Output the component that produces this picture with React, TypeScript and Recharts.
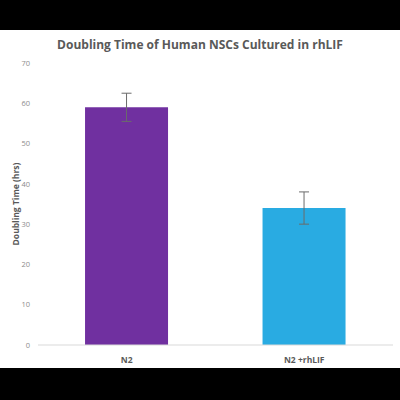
import React from "react";
import { BarChart, Bar, XAxis, YAxis, ErrorBar, Cell } from "recharts";

const conditions = ["N2", "N2 +rhLIF"];
const doublingHours = [59, 34];
const errorHours = [3.5, 4];
const barColors = ["#7030A0", "#29ABE2"];
const yTicks = [0, 10, 20, 30, 40, 50, 60, 70];

const data = conditions.map((name, i) => ({
  name,
  hours: doublingHours[i],
  err: errorHours[i],
}));

const FONT = "'Open Sans', 'Noto Sans', sans-serif";

const YLabel = (props: any) => {
  const vb = props.viewBox || { y: 0, height: 0 };
  const cx = 15;
  const cy = vb.y + vb.height / 2;
  return (
    <text
      x={cx}
      y={cy}
      transform={`rotate(-90 ${cx} ${cy})`}
      textAnchor="middle"
      dominantBaseline="central"
      fontFamily={FONT}
      fontSize={8.5}
      fontWeight={700}
      fill="#595959"
    >
      Doubling Time (hrs)
    </text>
  );
};

export default function App() {
  return (
    <div
      style={{
        position: "fixed",
        left: 0,
        top: 0,
        width: 400,
        height: 400,
        background: "#000",
      }}
    >
      <div
        style={{
          position: "absolute",
          left: 0,
          top: 30,
          width: 400,
          height: 338,
          background: "#fff",
        }}
      >
        <div
          style={{
            position: "absolute",
            left: 0,
            top: 6,
            width: 400,
            textAlign: "center",
            fontFamily: FONT,
            fontWeight: 700,
            fontSize: 12,
            color: "#595959",
          }}
        >
          Doubling Time of Human NSCs Cultured in rhLIF
        </div>
        <BarChart
          width={400}
          height={338}
          data={data}
          margin={{ top: 33, right: 7, bottom: 0, left: 0 }}
          barCategoryGap="26.5%"
        >
          <XAxis
            dataKey="name"
            height={23}
            tickLine={false}
            axisLine={{ stroke: "#d9d9d9" }}
            tick={{ fill: "#595959", fontFamily: FONT, fontSize: 8.5, fontWeight: 700 }}
            tickMargin={6}
          />
          <YAxis
            width={38}
            domain={[0, 70]}
            ticks={yTicks}
            axisLine={false}
            tickLine={false}
            tickMargin={2}
            tick={{ fill: "#8c8c8c", fontFamily: FONT, fontSize: 7.5 }}
            label={{ content: <YLabel /> }}
          />
          <Bar dataKey="hours" isAnimationActive={false}>
            {data.map((d, i) => (
              <Cell key={d.name} fill={barColors[i]} />
            ))}
            <ErrorBar dataKey="err" width={5} stroke="#6b6b6b" strokeWidth={1} />
          </Bar>
        </BarChart>
      </div>
    </div>
  );
}
